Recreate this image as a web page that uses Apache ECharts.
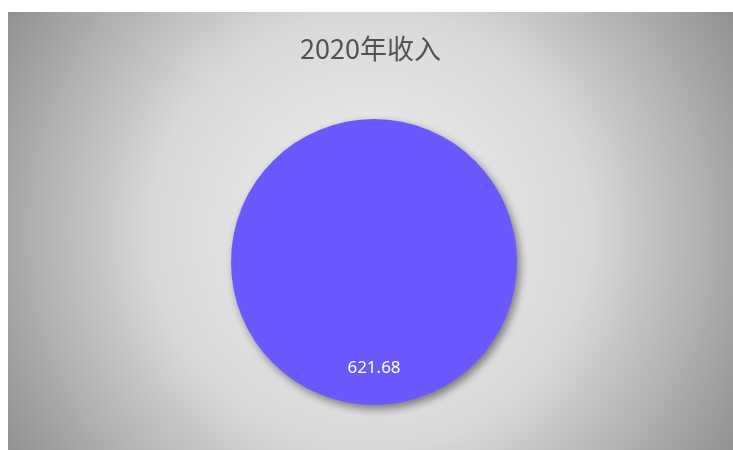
<!DOCTYPE html>
<html>
<head>
<meta charset="utf-8">
<script src="https://cdn.jsdelivr.net/npm/echarts@6/dist/echarts.min.js"></script>
<style>
html,body{margin:0;padding:0;background:#fff;width:733px;height:450px;overflow:hidden;}
#c{position:absolute;left:8px;top:12px;width:725px;height:438px;}
</style>
</head>
<body>
<div id="c"></div>
<script>
const titleText = '2020年收入';
const categories = ['2020年收入'];
const values = [621.68];

const chart = echarts.init(document.getElementById('c'));
chart.setOption({
  backgroundColor: {
    type: 'radial', x: 0.5, y: 0.5, r: 1,
    colorStops: [
      {offset: 0, color: '#f2f2f2'},
      {offset: 0.5, color: '#d8d8d8'},
      {offset: 0.83, color: '#a6a6a6'},
      {offset: 0.96, color: '#929292'},
      {offset: 1, color: '#8e8e8e'}
    ]
  },
  animation: false,
  title: {
    text: titleText,
    left: 'center',
    top: 18,
    textStyle: {fontFamily: 'Noto Sans CJK SC', fontSize: 27, fontWeight: 'normal', color: '#525252'}
  },
  series: [{
    type: 'pie',
    center: [366, 250],
    radius: 143,
    startAngle: 90,
    silent: true,
    label: {
      show: true,
      position: 'inside',
      offset: [0, 32],
      color: '#ffffff',
      fontSize: 17,
      fontFamily: 'Noto Sans',
      formatter: p => p.value.toFixed(2)
    },
    labelLine: {show: false},
    itemStyle: {
      color: '#6c58ff',
      shadowBlur: 8,
      shadowOffsetX: 3,
      shadowOffsetY: 4,
      shadowColor: 'rgba(0,0,0,0.45)'
    },
    data: categories.map((c, i) => ({name: c, value: values[i]}))
  }]
});
</script>
</body>
</html>
